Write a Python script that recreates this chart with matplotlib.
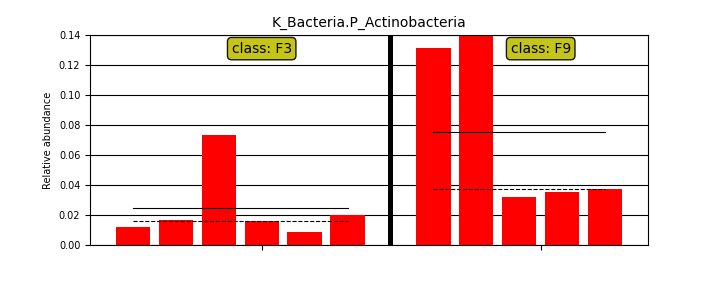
import numpy as np
import matplotlib
matplotlib.use('Agg')
import matplotlib.pyplot as plt

# relative abundance per sample
f3_values = [0.0120, 0.0167, 0.0733, 0.0160, 0.0087, 0.0200]
f9_values = [0.1313, 0.1420, 0.0320, 0.0353, 0.0373]
class_names = ['F3', 'F9']
feature = 'K_Bacteria.P_Actinobacteria'

fig = plt.figure(figsize=(7.2, 2.88), dpi=100)
ax = fig.add_axes([0.125, 0.149, 0.775, 0.729])

groups = [f3_values, f9_values]
start = 1
tick_pos = []
for i, vals in enumerate(groups):
    xs = np.arange(start, start + len(vals))
    ax.bar(xs, vals, width=0.8, color='r', zorder=2)
    # mean (solid) and median (dashed) lines over the class
    ax.plot([xs[0], xs[-1]], [np.mean(vals)] * 2, color='k', lw=0.8, zorder=3)
    ax.plot([xs[0], xs[-1]], [np.median(vals)] * 2, color='k', lw=0.8, ls='--', zorder=3)
    tick_pos.append(xs.mean() + 0.5)
    start = xs[-1] + 2
    if i < len(groups) - 1:
        ax.axvline(xs[-1] + 1, color='k', lw=3.6, zorder=4)

ax.set_xlim(0, start - 1)
ax.set_ylim(0, 0.14)
ax.set_yticks(np.arange(0, 0.141, 0.02))
ax.set_yticklabels(['%.2f' % t for t in np.arange(0, 0.141, 0.02)], fontsize=7)
ax.set_xticks(tick_pos)
ax.set_xticklabels(['', ''])
ax.grid(axis='y', color='k', lw=0.8, zorder=1)
ax.set_axisbelow(True)
ax.set_ylabel('Relative abundance', fontsize=7)
ax.set_title(feature, fontsize=10)

for name, xp in zip(class_names, tick_pos):
    ax.text(xp, 0.131, 'class: ' + name, ha='center', va='center', fontsize=10,
            bbox=dict(boxstyle='round,pad=0.3', facecolor='y', edgecolor='k', alpha=0.9),
            zorder=5)

fig.savefig('out.png', dpi=100)
